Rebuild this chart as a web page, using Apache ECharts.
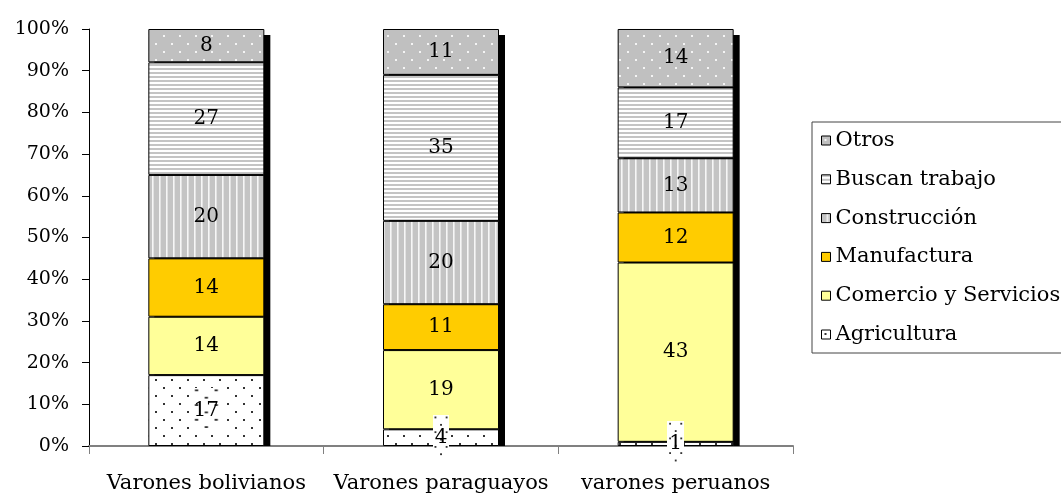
<!DOCTYPE html>
<html>
<head>
<meta charset="utf-8">
<script src="https://cdn.jsdelivr.net/npm/echarts@6/dist/echarts.min.js"></script>
<style>
  html, body { margin: 0; padding: 0; background: #fff; }
  #chart { width: 1061px; height: 495px; }
</style>
</head>
<body>
<div id="chart"></div>
<script>
// Occupation of migrant men, share by sector (%)
const categories = ['Varones bolivianos', 'Varones paraguayos', 'varones peruanos'];
const agricultura = [17, 4, 1];
const comercio = [14, 19, 43];
const manufactura = [14, 11, 12];
const construccion = [20, 20, 13];
const buscan = [27, 35, 17];
const otros = [8, 11, 14];
const yTicks = [0, 10, 20, 30, 40, 50, 60, 70, 80, 90, 100];

const FONT = 'DejaVu Serif';

function makeCanvas(w, h, draw) {
  const c = document.createElement('canvas');
  c.width = w; c.height = h;
  draw(c.getContext('2d'), w, h);
  return c;
}
// white with small dark dots, staggered
const dotsWhite = makeCanvas(16, 16, (g) => {
  g.fillStyle = '#fff'; g.fillRect(0, 0, 16, 16);
  g.fillStyle = '#333';
  g.fillRect(3, 3, 2, 2); g.fillRect(11, 11, 2, 2);
});
// grey with small white dots
const dotsGrey = makeCanvas(16, 16, (g) => {
  g.fillStyle = '#c0c0c0'; g.fillRect(0, 0, 16, 16);
  g.fillStyle = '#f4f4f4';
  g.fillRect(3, 3, 2, 2); g.fillRect(11, 11, 2, 2);
});
// horizontal grey / white stripes
const hStripes = makeCanvas(4, 4, (g) => {
  g.fillStyle = '#fff'; g.fillRect(0, 0, 4, 4);
  g.fillStyle = '#c4c4c4'; g.fillRect(0, 0, 4, 2);
});
// vertical grey stripes with thin white lines
const vStripes = makeCanvas(7, 4, (g) => {
  g.fillStyle = '#c4c4c4'; g.fillRect(0, 0, 7, 4);
  g.fillStyle = '#f6f6f6'; g.fillRect(5, 0, 1, 4);
  g.fillStyle = '#e2e2e2'; g.fillRect(6, 0, 1, 4);
});
// label box filling for the small agriculture values
const labelDots = makeCanvas(18, 50, (g) => {
  g.fillStyle = '#fff'; g.fillRect(0, 0, 18, 50);
  g.fillStyle = '#333';
  for (let y = 2; y < 50; y += 16) { g.fillRect(2, y, 2, 2); g.fillRect(14, y, 2, 2); g.fillRect(8, y + 8, 2, 2); }
});

const pat = (c) => ({ image: c, repeat: 'repeat' });

const BAR_W = 116;

const labelStyle = {
  show: true, position: 'inside', color: '#000',
  fontFamily: FONT, fontSize: 20,
  formatter: (p) => String(p.value)
};

function barSeries(name, data, color, extraLabel) {
  return {
    name, type: 'bar', stack: 'total', barWidth: BAR_W, data,
    itemStyle: { color, borderColor: '#000', borderWidth: 1 },
    label: Object.assign({}, labelStyle, extraLabel || {}),
    emphasis: { disabled: true },
    z: 3
  };
}

const totals = categories.map((_, i) =>
  agricultura[i] + comercio[i] + manufactura[i] + construccion[i] + buscan[i] + otros[i]);

const chart = echarts.init(document.getElementById('chart'), null, { renderer: 'canvas' });

chart.setOption({
  animation: false,
  backgroundColor: '#fff',
  grid: { left: 89, right: 268, top: 29, bottom: 49 },
  xAxis: {
    type: 'category', data: categories,
    axisLine: { lineStyle: { color: '#808080', width: 2 } },
    axisTick: { show: true, length: 8, lineStyle: { color: '#808080' } },
    axisLabel: { color: '#000', fontFamily: FONT, fontSize: 21, margin: 27, interval: 0 }
  },
  yAxis: {
    type: 'value', min: 0, max: 100, interval: 10,
    axisLine: { show: true, lineStyle: { color: '#000', width: 1 } },
    axisTick: { show: true, length: 7, lineStyle: { color: '#000' } },
    splitLine: { show: false },
    axisLabel: { color: '#000', fontFamily: FONT, fontSize: 19, margin: 20,
      formatter: (v) => yTicks.includes(v) ? v + '%' : '' }
  },
  legend: {
    orient: 'vertical', left: 812, top: 122,
    padding: [8, 10, 8, 9],
    borderColor: '#444', borderWidth: 1,
    itemWidth: 9, itemHeight: 9, itemGap: 17.8,
    icon: 'rect',
    itemStyle: { borderColor: '#000', borderWidth: 1 },
    textStyle: { color: '#000', fontFamily: FONT, fontSize: 21, lineHeight: 21 },
    data: ['Otros', 'Buscan trabajo', 'Construcción', 'Manufactura', 'Comercio y Servicios', 'Agricultura']
  },
  series: [
    {
      // drop shadow behind each bar
      type: 'custom',
      data: categories.map((c, i) => [i, totals[i]]),
      encode: { x: 0, y: 1 },
      z: 1, silent: true,
      renderItem: (params, api) => {
        const top = api.coord([api.value(0), api.value(1)]);
        const base = api.coord([api.value(0), 0]);
        return {
          type: 'rect',
          shape: { x: top[0] - BAR_W / 2 + 6, y: top[1] + 6, width: BAR_W, height: base[1] - top[1] - 6 },
          style: { fill: '#000' }
        };
      }
    },
    barSeries('Agricultura', agricultura, pat(dotsWhite), {
      backgroundColor: { image: labelDots }, padding: [14, 2, 12, 2]
    }),
    barSeries('Comercio y Servicios', comercio, '#ffff99'),
    barSeries('Manufactura', manufactura, '#ffcc00'),
    barSeries('Construcción', construccion, pat(vStripes)),
    barSeries('Buscan trabajo', buscan, pat(hStripes)),
    barSeries('Otros', otros, pat(dotsGrey))
  ]
});
</script>
</body>
</html>
